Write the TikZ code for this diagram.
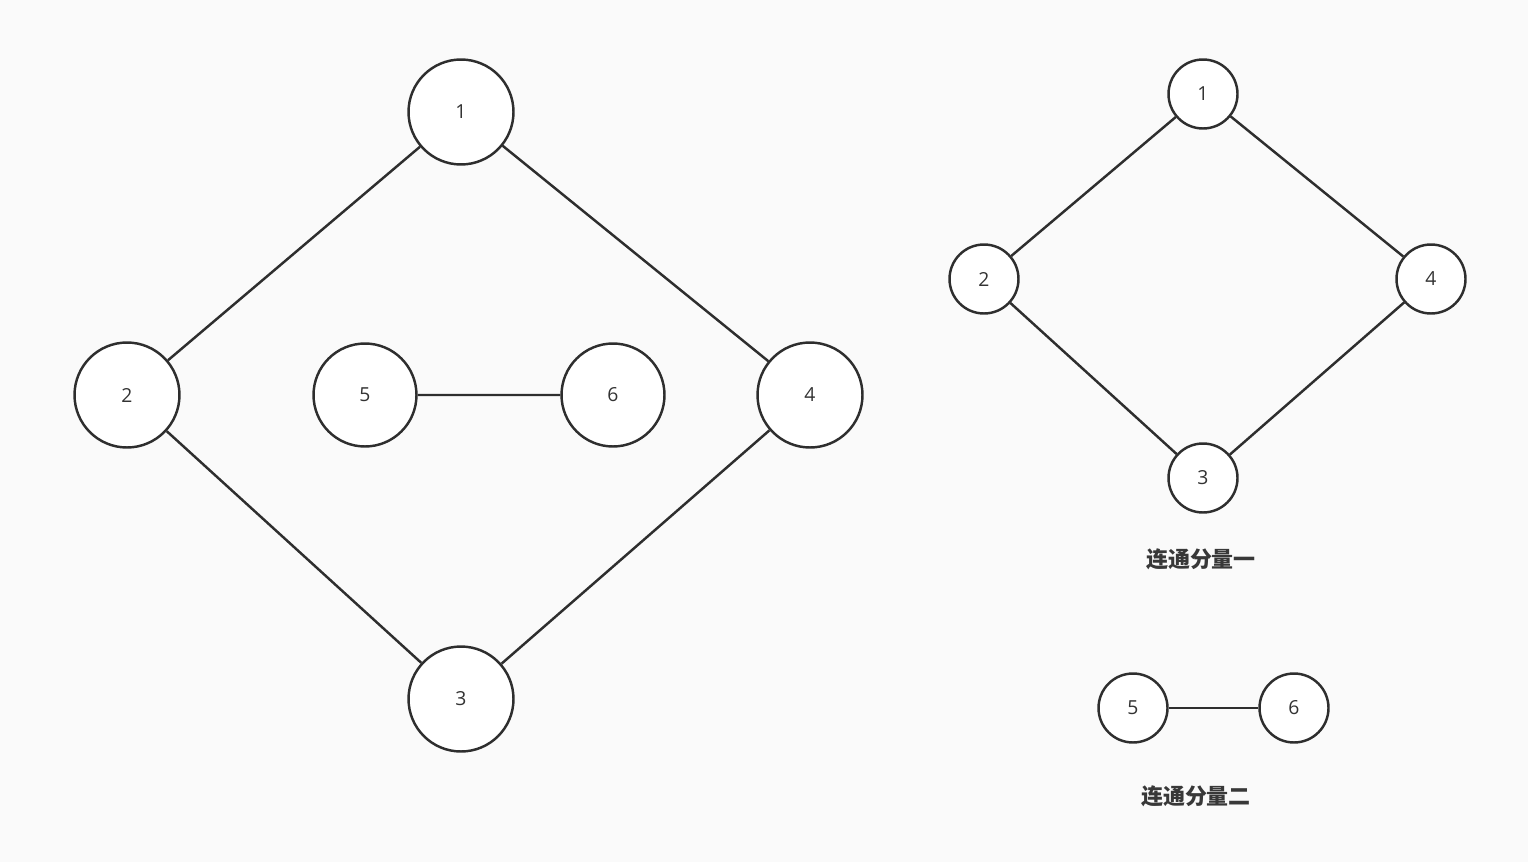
\documentclass[tikz,border=0pt]{standalone}
\usepackage{fontspec}
\setmainfont{Open Sans}
\newfontfamily\cjk{Noto Sans CJK SC}
\begin{document}
\begin{tikzpicture}[x=0.02cm,y=-0.02cm,
  vtx/.style={circle,draw=black!82,line width=1.4pt,fill=white,inner sep=0pt,font=\fontsize{11}{13}\selectfont,text=black!80},
  big/.style={vtx,minimum size=2.1cm},
  med/.style={vtx,minimum size=2.06cm},
  sml/.style={vtx,minimum size=1.38cm},
  edge/.style={draw=black!82,line width=1.4pt},
  lbl/.style={font=\cjk\bfseries\fontsize{12.5}{15}\selectfont,text=black!78}]
\fill[white!98!black] (0,0) rectangle (1528,862);
\useasboundingbox (0,0) rectangle (1528,862);
\node[big] (a1) at (461,112) {1};
\node[big] (a2) at (127,395) {2};
\node[med] (a5) at (365,395) {5};
\node[med] (a6) at (613,395) {6};
\node[big] (a4) at (810,395) {4};
\node[big] (a3) at (461,699) {3};
\draw[edge] (a1)--(a2) (a1)--(a4) (a2)--(a3) (a4)--(a3) (a5)--(a6);
\node[sml] (b1) at (1203,94) {1};
\node[sml] (b2) at (984,279) {2};
\node[sml] (b4) at (1431,279) {4};
\node[sml] (b3) at (1203,478) {3};
\draw[edge] (b1)--(b2) (b1)--(b4) (b2)--(b3) (b4)--(b3);
\node[sml] (c5) at (1133,708) {5};
\node[sml] (c6) at (1294,708) {6};
\draw[edge] (c5)--(c6);
\node[lbl] (l1) at (1201,559) {连通分量一};
\node[lbl] (l2) at (1196,796) {连通分量二};
\end{tikzpicture}
\end{document}
